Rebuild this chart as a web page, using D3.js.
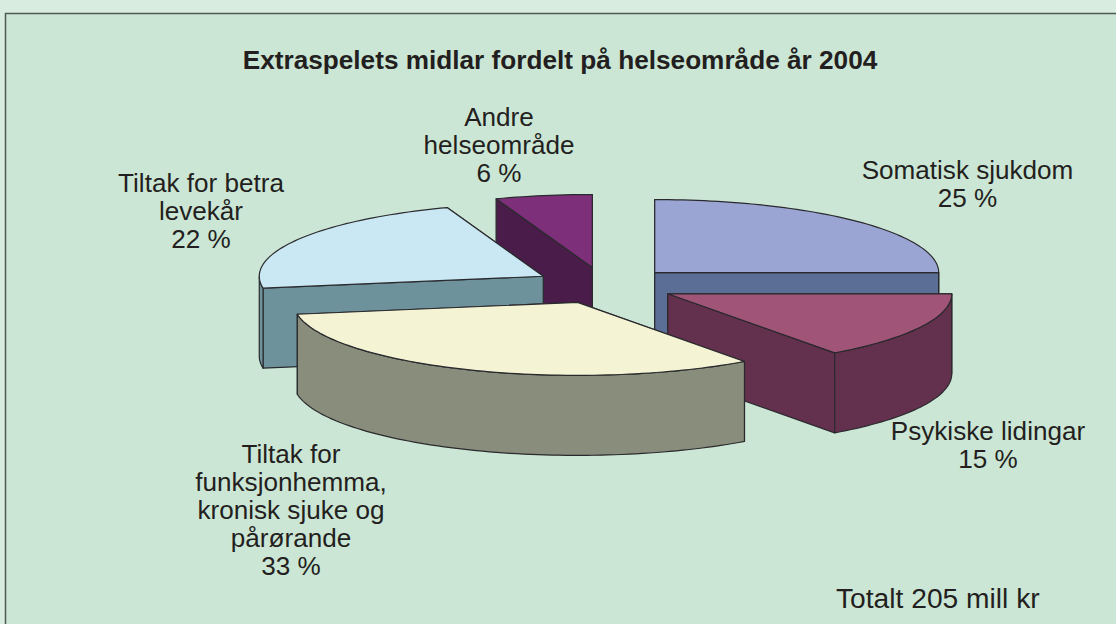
<!DOCTYPE html>
<html>
<head>
<meta charset="utf-8">
<script src="https://cdn.jsdelivr.net/npm/d3@7"></script>
<style>
html, body { margin: 0; padding: 0; background: #d9ece0; }
svg { display: block; }
text { font-family: "Liberation Sans", Arial, sans-serif; fill: #231f20; }
</style>
</head>
<body>
<div id="chart"></div>
<script>
// data
var categories = ["Somatisk sjukdom", "Psykiske lidingar", "Tiltak for funksjonhemma, kronisk sjuke og pårørande", "Tiltak for betra levekår", "Andre helseområde"];
var shares = [25, 15, 32.4, 22.1, 5.5];
var percentLabels = ["25 %", "15 %", "33 %", "22 %", "6 %"];
var labelLines = [
    ["Somatisk sjukdom"],
    ["Psykiske lidingar"],
    ["Tiltak for", "funksjonhemma,", "kronisk sjuke og", "pårørande"],
    ["Tiltak for betra", "levekår"],
    ["Andre", "helseområde"]
];
var topColors = ["#9aa5d3", "#a05478", "#f4f3d3", "#c9e8f4", "#7d2f79"];
var sideColors = ["#5a6e96", "#63304d", "#888d7c", "#6d929b", "#4a1c4a"];
var labelX = [967.5, 988, 291, 201, 499];
var labelY = [179, 440, 463, 192, 126];

var title = "Extraspelets midlar fordelt på helseområde år 2004";
var totalText = "Totalt 205 mill kr";

var width = 1116, height = 624;
var cx = 604.5, cy = 285.5, rx = 284, ry = 73, depth = 80, explode = 0.25;

var svg = d3.select("#chart").append("svg")
    .attr("width", width)
    .attr("height", height);

// panel with the dark frame, it runs off the right and bottom of the page
svg.append("rect")
    .attr("x", 5.5).attr("y", 13.5)
    .attr("width", 1130).attr("height", 640)
    .attr("fill", "#cce6d5")
    .attr("stroke", "#4f5a54")
    .attr("stroke-width", 1.5);

// unit circle -> flattened pie plane
var xScale = d3.scaleLinear().domain([-1, 1]).range([cx - rx, cx + rx]);
var yScale = d3.scaleLinear().domain([-1, 1]).range([cy - ry, cy + ry]);

var pie = d3.pie().sort(null).value(function (d) { return d; });
var arcs = pie(shares);

var line = d3.line();

function point(a, r, off, drop) {
    return [xScale(off[0] + r * Math.sin(a)), yScale(off[1] - r * Math.cos(a)) + drop];
}

function arcPoints(a0, a1, off, drop) {
    var n = Math.max(2, Math.ceil((a1 - a0) * 40));
    return d3.range(n + 1).map(function (i) {
        return point(a0 + (a1 - a0) * i / n, 1, off, drop);
    });
}

arcs.forEach(function (d, i) {
    var mid = (d.startAngle + d.endAngle) / 2;
    d.index = i;
    d.off = [explode * Math.sin(mid), -explode * Math.cos(mid)];
    d.apex = point(0, 0, d.off, 0);
});

// back slices first
var slices = arcs.slice().sort(function (a, b) { return a.apex[1] - b.apex[1]; });

var sliceGroups = svg.selectAll(".slice")
    .data(slices)
    .enter().append("g")
    .attr("class", "slice")
    .attr("stroke", "#2a2a2e")
    .attr("stroke-width", 1.2)
    .attr("stroke-linejoin", "round");

sliceGroups.each(function (d) {
    var g = d3.select(this);
    var side = sideColors[d.index];

    // the two cut faces, the one further back first
    [d.startAngle, d.endAngle].sort(function (a, b) {
        return point(a, 1, d.off, 0)[1] - point(b, 1, d.off, 0)[1];
    }).forEach(function (a) {
        var p = point(a, 1, d.off, 0);
        g.append("path")
            .attr("fill", side)
            .attr("d", line([d.apex, p, [p[0], p[1] + depth], [d.apex[0], d.apex[1] + depth]]) + "Z");
    });

    // outer wall, only the part turned towards the viewer
    var a0 = Math.max(d.startAngle, Math.PI / 2),
        a1 = Math.min(d.endAngle, Math.PI * 1.5);
    if (a1 > a0) {
        var upper = arcPoints(a0, a1, d.off, 0);
        var lower = arcPoints(a0, a1, d.off, depth).reverse();
        g.append("path")
            .attr("fill", side)
            .attr("d", line(upper.concat(lower)) + "Z");
    }

    // top surface
    g.append("path")
        .attr("fill", topColors[d.index])
        .attr("d", line([d.apex].concat(arcPoints(d.startAngle, d.endAngle, d.off, 0))) + "Z");
});

svg.append("text")
    .attr("x", 560).attr("y", 69)
    .attr("text-anchor", "middle")
    .attr("font-size", 26.2)
    .attr("font-weight", "bold")
    .text(title);

// slice labels
svg.selectAll(".label")
    .data(categories)
    .enter().append("text")
    .attr("class", "label")
    .attr("text-anchor", "middle")
    .attr("font-size", 26.1)
    .each(function (d, i) {
        var t = d3.select(this);
        labelLines[i].concat([percentLabels[i]]).forEach(function (s, k) {
            t.append("tspan")
                .attr("x", labelX[i])
                .attr("y", labelY[i] + k * 28)
                .text(s);
        });
    });

svg.append("text")
    .attr("x", 836).attr("y", 608)
    .attr("font-size", 28.2)
    .text(totalText);
</script>
</body>
</html>
